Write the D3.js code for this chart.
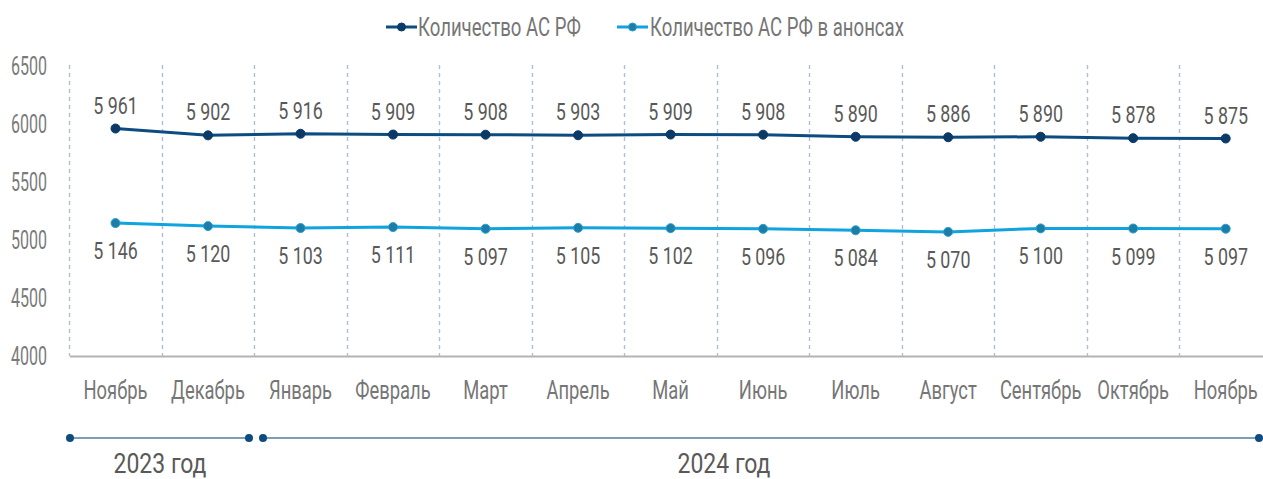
<!DOCTYPE html>
<html><head><meta charset="utf-8">
<script src="https://cdn.jsdelivr.net/npm/d3@7"></script>
<style>
body{margin:0;background:#fff;}
text{font-family:Roboto,"Noto Sans",sans-serif;}
</style></head>
<body><svg id="c" width="1263" height="479"></svg>
<script>
const months = ["Ноябрь","Декабрь","Январь","Февраль","Март","Апрель","Май","Июнь","Июль","Август","Сентябрь","Октябрь","Ноябрь"];
const seriesNames = ["Количество АС РФ","Количество АС РФ в анонсах"];
const totalAS = [5961,5902,5916,5909,5908,5903,5909,5908,5890,5886,5890,5878,5875];
const announcedAS = [5146,5120,5103,5111,5097,5105,5102,5096,5084,5070,5100,5099,5097];
const yTicks = [4000,4500,5000,5500,6000,6500];
const years = ["2023 год","2024 год"];

const svg = d3.select("#c");
const x = d3.scalePoint().domain(d3.range(months.length)).range([115.5,1225.7]);
const step = x.step();
const y = d3.scaleLinear().domain([4000,6500]).range([356,66]);

// condensed look: horizontal squeeze computed from a sample string's target width
const styles = {
  tick:   {size:25, sample:"6500", w:36, fill:"#7a7a7a", anchor:"end"},
  month:  {size:25, sample:"Ноябрь", w:64, fill:"#767676", anchor:"middle"},
  label:  {size:24, sample:"5 961", w:44.5, fill:"#595959", anchor:"middle"},
  legend: {size:25, sample:"Количество АС РФ", w:163, fill:"#767676", anchor:"start"},
  year:   {size:28, sample:"2023 год", w:93, fill:"#595959", anchor:"middle"}
};
Object.values(styles).forEach(st=>{
  const t = svg.append("text").attr("font-size",st.size).text(st.sample);
  const w = t.node().getComputedTextLength();
  st.sx = w>0 ? st.w / w : 1;
  t.remove();
});
function txt(g, tx, ty, s, key){
  const st = styles[key];
  return g.append("text")
    .attr("transform",`translate(${tx},${ty}) scale(${st.sx},1)`)
    .attr("text-anchor",st.anchor)
    .attr("font-size",st.size)
    .attr("fill",st.fill)
    .text(s);
}

// vertical dashed gridlines at band boundaries
const grid = svg.append("g");
d3.range(months.length+1).forEach(i=>{
  const gx = Math.round(x(0) - step/2 + i*step) + 0.5;
  grid.append("line").attr("x1",gx).attr("x2",gx).attr("y1",65).attr("y2",356)
    .attr("stroke", "#abc0d4").attr("stroke-width",1.4)
    .attr("stroke-dasharray","4,4");
});

// x axis baseline
svg.append("line").attr("x1",70).attr("x2",1263).attr("y1",356.5).attr("y2",356.5)
  .attr("stroke","#b3b3b3").attr("stroke-width",2);

// y tick labels
const yg = svg.append("g");
yTicks.forEach(t=>txt(yg, 47, y(t)+9, t, "tick"));

// month labels
const mg = svg.append("g");
months.forEach((m,i)=>txt(mg, x(i), 399, m, "month"));

// lines
const line = d3.line().x((d,i)=>x(i)).y(d=>y(d));
const series = [
  {vals: totalAS, color:"#0d4c80", mfill:"#0b3a66", mstroke:"#0b3a66", dy:-15},
  {vals: announcedAS, color:"#0fa3df", mfill:"#1b7ea8", mstroke:"#2a9fcf", dy:36}
];
const fmt = v => { const s = String(v); return s.slice(0,1)+" "+s.slice(1); };
series.forEach(s=>{
  svg.append("path").datum(s.vals).attr("d",line).attr("fill","none")
    .attr("stroke",s.color).attr("stroke-width",3);
  svg.append("g").selectAll("circle").data(s.vals).join("circle")
    .attr("cx",(d,i)=>x(i)).attr("cy",d=>y(d)).attr("r",4.5)
    .attr("fill",s.mfill).attr("stroke",s.mstroke).attr("stroke-width",1);
  const lg = svg.append("g");
  s.vals.forEach((v,i)=>txt(lg, x(i), y(v)+s.dy, fmt(v), "label"));
});

// legend
const leg = svg.append("g");
const legItems = [{x0:386, x1:417, tx:418}, {x0:617, x1:648, tx:650}];
legItems.forEach((L,i)=>{
  const s = series[i];
  leg.append("line").attr("x1",L.x0).attr("x2",L.x1).attr("y1",27).attr("y2",27)
    .attr("stroke",s.color).attr("stroke-width",3);
  leg.append("circle").attr("cx",(L.x0+L.x1)/2).attr("cy",27).attr("r",4)
    .attr("fill",s.mfill).attr("stroke",s.mstroke);
  txt(leg, L.tx, 36, seriesNames[i], "legend");
});

// year timeline
const tl = svg.append("g");
const segs = [[70,249],[263,1259]];
segs.forEach(sg=>{
  tl.append("line").attr("x1",sg[0]).attr("x2",sg[1]).attr("y1",438).attr("y2",438)
    .attr("stroke","#4f7fa5").attr("stroke-width",1.3);
  sg.forEach(cx=>tl.append("circle").attr("cx",cx).attr("cy",438).attr("r",4).attr("fill","#0d4c80"));
});
txt(tl, 160, 473, years[0], "year");
txt(tl, 724, 473, years[1], "year");
</script></body></html>
